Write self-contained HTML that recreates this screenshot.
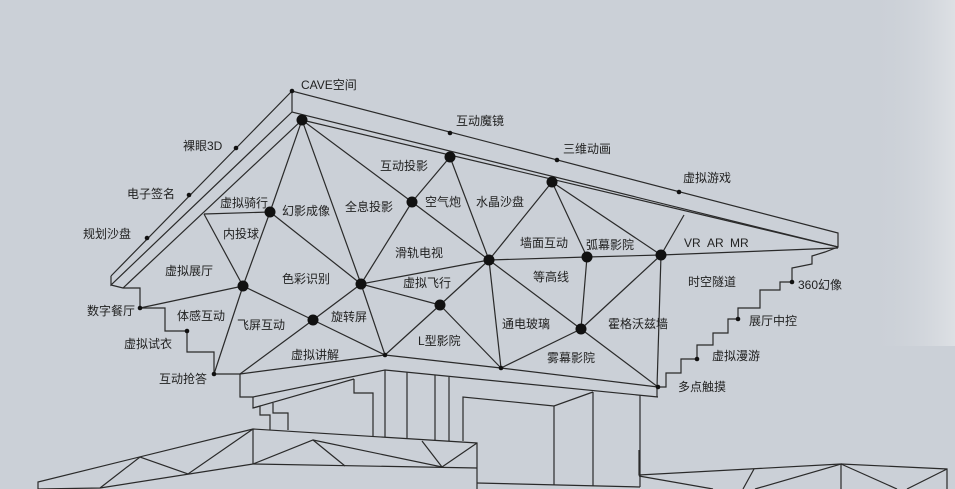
<!DOCTYPE html>
<html><head><meta charset="utf-8"><style>
html,body{margin:0;padding:0;background:#cbd0d7;}
svg{display:block;}
text{font-family:"Liberation Sans","Noto Sans CJK SC",sans-serif;font-size:12px;fill:#222;}
</style></head><body>
<svg width="955" height="489" viewBox="0 0 955 489" xmlns="http://www.w3.org/2000/svg">
<defs><linearGradient id="g" x1="0" x2="1"><stop offset="0" stop-color="#cbd0d7" stop-opacity="0"/><stop offset="1" stop-color="#dde0e4"/></linearGradient></defs>
<rect width="955" height="489" fill="#cbd0d7"/>
<rect x="870" y="0" width="85" height="346" fill="url(#g)"/>
<g stroke="#2a2a2a" stroke-width="1.2" fill="none" stroke-linejoin="miter">
<polyline points="111,276 292,91 838,233 838,247 292,112 111,285 111,276"/>
<line x1="292" y1="91" x2="292" y2="112"/>
<line x1="302" y1="120" x2="838" y2="247"/>
<line x1="302" y1="120" x2="123" y2="288"/>
<polyline points="111,285 123,288 140,288 140,308 165,308 165,331 187,331 187,352 214,352 214,374 240,374 240,397 253,397"/>
<polyline points="838,247 825,252 812,256 812,264 792,268 792,282 780,282 780,290 760,290 760,308 738,308 738,319 728,319 728,333 713,333 713,345 697,345 697,359 681,359 681,373 666,373 666,387 657,387 657,397"/>
<polyline points="240,374 385,355 501,368 658,387"/>
<polyline points="253,397 385,370 658,397"/>
<polyline points="253,397 253,408 354,379"/>
<polyline points="253,408 260,406 260,415 270,415 270,430"/>
<polyline points="273,403 273,413 288,413 288,430"/>
<polyline points="204,214 270,212"/>
<line x1="204" y1="214" x2="243" y2="286"/>
<line x1="302" y1="120" x2="270" y2="212"/>
<line x1="270" y1="212" x2="243" y2="286"/>
<line x1="302" y1="120" x2="361" y2="284"/>
<line x1="302" y1="120" x2="412" y2="202"/>
<line x1="270" y1="212" x2="361" y2="284"/>
<line x1="243" y1="286" x2="140" y2="308"/>
<line x1="243" y1="286" x2="313" y2="320"/>
<line x1="243" y1="286" x2="214" y2="374"/>
<line x1="313" y1="320" x2="361" y2="284"/>
<line x1="313" y1="320" x2="240" y2="374"/>
<line x1="313" y1="320" x2="385" y2="355"/>
<line x1="361" y1="284" x2="385" y2="355"/>
<line x1="361" y1="284" x2="489" y2="260"/>
<line x1="361" y1="284" x2="440" y2="305"/>
<line x1="412" y1="202" x2="361" y2="284"/>
<line x1="412" y1="202" x2="450" y2="157"/>
<line x1="412" y1="202" x2="489" y2="260"/>
<line x1="450" y1="157" x2="489" y2="260"/>
<line x1="440" y1="305" x2="385" y2="355"/>
<line x1="440" y1="305" x2="501" y2="368"/>
<line x1="440" y1="305" x2="489" y2="260"/>
<line x1="489" y1="260" x2="501" y2="368"/>
<line x1="489" y1="260" x2="552" y2="182"/>
<line x1="489" y1="260" x2="587" y2="257"/>
<line x1="489" y1="260" x2="581" y2="329"/>
<line x1="552" y1="182" x2="587" y2="257"/>
<line x1="552" y1="182" x2="661" y2="255"/>
<line x1="587" y1="257" x2="661" y2="255"/>
<line x1="587" y1="257" x2="581" y2="329"/>
<line x1="661" y1="255" x2="581" y2="329"/>
<line x1="661" y1="255" x2="657" y2="387"/>
<line x1="661" y1="255" x2="684" y2="215"/>
<line x1="661" y1="255" x2="838" y2="248"/>
<line x1="581" y1="329" x2="501" y2="368"/>
<line x1="581" y1="329" x2="658" y2="387"/>
<line x1="385" y1="370" x2="385" y2="437"/>
<line x1="407" y1="372" x2="407" y2="438"/>
<line x1="435" y1="375" x2="435" y2="440"/>
<line x1="449" y1="377" x2="449" y2="441"/>
<polyline points="354,379 354,393 373,393 373,437"/>
<polyline points="463,441 463,397 554,406 593,392"/>
<line x1="593" y1="392" x2="593" y2="486"/>
<line x1="640" y1="395" x2="640" y2="487"/>
<line x1="554" y1="406" x2="554" y2="485"/>
<line x1="477" y1="483" x2="640" y2="487"/>
<polyline points="38,489 38,482 253,429 477,443 477,489"/>
<polyline points="38,489 100,488 253,464 477,468"/>
<line x1="253" y1="429" x2="253" y2="464"/>
<polyline points="100,488 140,457 188,474 253,429"/>
<polyline points="253,464 313,440 345,466"/>
<polyline points="313,440 442,467 477,443"/>
<polyline points="422,441 442,467"/>
<polyline points="639,450 639,475 841,464 947,469 947,489"/>
<polyline points="639,476 713,489"/>
<polyline points="754,469 743,489"/>
<polyline points="755,489 841,464 841,489"/>
<polyline points="841,464 897,489"/>
<polyline points="947,469 907,489"/>
</g>
<g fill="#111">
<circle cx="302" cy="120" r="5.5"/><circle cx="270" cy="212" r="5.5"/><circle cx="243" cy="286" r="5.5"/>
<circle cx="313" cy="320" r="5.5"/><circle cx="361" cy="284" r="5.5"/><circle cx="412" cy="202" r="5.5"/>
<circle cx="450" cy="157" r="5.5"/><circle cx="489" cy="260" r="5.5"/><circle cx="440" cy="305" r="5.5"/>
<circle cx="552" cy="182" r="5.5"/><circle cx="587" cy="257" r="5.5"/><circle cx="661" cy="255" r="5.5"/>
<circle cx="581" cy="329" r="5.5"/>
<circle cx="292" cy="91" r="2.3"/><circle cx="236" cy="148" r="2.3"/><circle cx="189" cy="195" r="2.3"/><circle cx="147" cy="238" r="2.3"/>
<circle cx="450" cy="133" r="2.3"/><circle cx="557" cy="160" r="2.3"/><circle cx="679" cy="192" r="2.3"/>
<circle cx="140" cy="308" r="2.3"/><circle cx="187" cy="331" r="2.3"/><circle cx="214" cy="374" r="2.3"/>
<circle cx="385" cy="355" r="2.3"/><circle cx="501" cy="368" r="2.3"/><circle cx="658" cy="387" r="2.3"/>
<circle cx="792" cy="282" r="2.3"/><circle cx="738" cy="319" r="2.3"/><circle cx="697" cy="359" r="2.3"/>
</g>
<g>
<text x="301" y="89">CAVE空间</text>
<text x="183" y="150">裸眼3D</text>
<text x="127" y="198">电子签名</text>
<text x="83" y="238">规划沙盘</text>
<text x="220" y="207">虚拟骑行</text>
<text x="282" y="215">幻影成像</text>
<text x="345" y="211">全息投影</text>
<text x="380" y="170">互动投影</text>
<text x="425" y="206">空气炮</text>
<text x="476" y="206">水晶沙盘</text>
<text x="223" y="238">内投球</text>
<text x="165" y="275">虚拟展厅</text>
<text x="282" y="283">色彩识别</text>
<text x="395" y="257">滑轨电视</text>
<text x="403" y="287">虚拟飞行</text>
<text x="87" y="315">数字餐厅</text>
<text x="177" y="320">体感互动</text>
<text x="237" y="329">飞屏互动</text>
<text x="331" y="321">旋转屏</text>
<text x="418" y="345">L型影院</text>
<text x="124" y="348">虚拟试衣</text>
<text x="291" y="359">虚拟讲解</text>
<text x="159" y="383">互动抢答</text>
<text x="456" y="125">互动魔镜</text>
<text x="563" y="153">三维动画</text>
<text x="683" y="182">虚拟游戏</text>
<text x="520" y="247">墙面互动</text>
<text x="586" y="249">弧幕影院</text>
<text x="684" y="247">VR</text>
<text x="707" y="247">AR</text>
<text x="730" y="247">MR</text>
<text x="533" y="281">等高线</text>
<text x="688" y="286">时空隧道</text>
<text x="798" y="289">360幻像</text>
<text x="502" y="328">通电玻璃</text>
<text x="608" y="328">霍格沃兹墙</text>
<text x="749" y="325">展厅中控</text>
<text x="547" y="362">雾幕影院</text>
<text x="712" y="360">虚拟漫游</text>
<text x="678" y="391">多点触摸</text>
</g>
</svg>
</body></html>
